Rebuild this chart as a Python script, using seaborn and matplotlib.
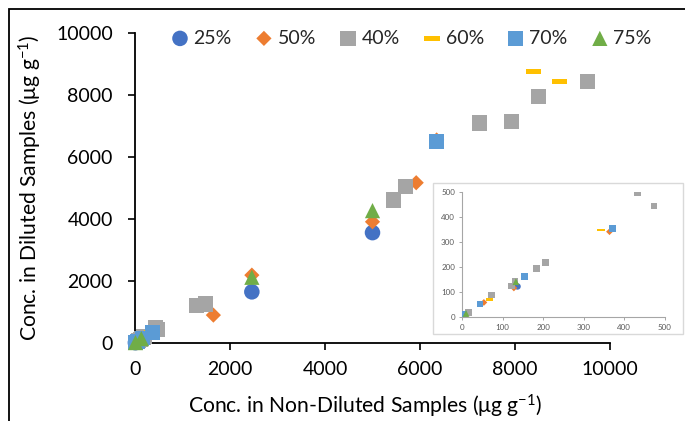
import matplotlib
matplotlib.use("Agg")
import matplotlib.pyplot as plt
from matplotlib.path import Path
from matplotlib.patches import Rectangle
import seaborn as sns

# Series labels (dilution level) and colours
series = ["25%", "50%", "40%", "60%", "70%", "75%"]
colors = ["#4472C4", "#ED7D31", "#A5A5A5", "#FFC000", "#5B9BD5", "#70AD47"]

# Concentrations (µg g-1): non-diluted (x) vs diluted (y)
x25 = [8, 137, 2460, 5000]
y25 = [10, 121, 1650, 3560]
x50 = [12, 54, 128, 364, 1650, 2460, 5000, 5920, 6350]
y50 = [10, 57, 115, 340, 900, 2190, 3910, 5170, 6550]
x40 = [16, 72, 122, 131, 183, 207, 433, 474, 1300, 1480, 5440, 5700, 7250, 7930, 8500, 9530]
y40 = [17, 87, 123, 140, 193, 217, 497, 443, 1200, 1260, 4610, 5040, 7100, 7140, 7950, 8430]
x60 = [69, 343, 8390, 8930]
y60 = [69, 347, 8770, 8430]
x70 = [4, 44, 154, 372, 6350]
y70 = [9, 51, 160, 353, 6490]
x75 = [10, 133, 2460, 5000]
y75 = [13, 140, 2120, 4270]

main_ticks = [0, 2000, 4000, 6000, 8000, 10000]
inset_ticks = [0, 100, 200, 300, 400, 500]

xs = [x25, x50, x40, x60, x70, x75]
ys = [y25, y50, y40, y60, y70, y75]

# flat bar marker for the 60% series
dash = Path([(-1, -0.33), (1, -0.33), (1, 0.33), (-1, 0.33), (-1, -0.33)],
            [Path.MOVETO, Path.LINETO, Path.LINETO, Path.LINETO, Path.CLOSEPOLY])
markers = ["o", "D", "s", dash, "s", "^"]
main_sizes = [125, 60, 120, 120, 115, 120]
inset_sizes = [22, 12, 24, 26, 22, 24]

sns.set_theme(style="white")
plt.rcParams["font.family"] = ["Lato", "DejaVu Sans"]
plt.rcParams["mathtext.fontset"] = "custom"
plt.rcParams["mathtext.rm"] = "Lato"
plt.rcParams["mathtext.default"] = "regular"

fig = plt.figure(figsize=(6.85, 4.21), dpi=100)
ax = fig.add_axes([135 / 685, 1 - 343 / 421, 475 / 685, 310 / 421])

for xv, yv, lab, col, mk, sz in zip(xs, ys, series, colors, markers, main_sizes):
    sns.scatterplot(x=xv, y=yv, ax=ax, color=col, marker=mk, s=sz,
                    linewidth=0, edgecolor="none", label=lab, clip_on=False, zorder=3)

ax.set_xlim(0, 10000)
ax.set_ylim(0, 10000)
ax.set_xticks(main_ticks)
ax.set_yticks(main_ticks)
ax.set_xticklabels([str(t) for t in main_ticks])
ax.set_yticklabels([str(t) for t in main_ticks])
for side in ["top", "right"]:
    ax.spines[side].set_visible(False)
for side in ["left", "bottom"]:
    ax.spines[side].set_color("black")
    ax.spines[side].set_linewidth(1.3)
ax.tick_params(axis="both", which="major", direction="out", length=5, width=1.2,
               color="black", labelsize=14, labelcolor="black",
               bottom=True, left=True)
ax.tick_params(axis="x", pad=8)
ax.tick_params(axis="y", pad=11)

ax.set_xlabel(r"Conc. in Non-Diluted Samples (μg g$^{-1}$)", fontsize=15.2, color="black")
ax.set_ylabel(r"Conc. in Diluted Samples (μg g$^{-1}$)", fontsize=15.2, color="black")
ax.xaxis.set_label_coords(0.485, -0.162)
ax.yaxis.set_label_coords(-0.192, 0.5)

handles, labels = ax.get_legend_handles_labels()
ax.legend(handles, labels, ncol=6, loc="center", frameon=False,
          bbox_to_anchor=(410 / 685, 1 - 38 / 421), bbox_transform=fig.transFigure,
          fontsize=14, handletextpad=0.1, columnspacing=1.05, handlelength=1.2,
          borderaxespad=0)

# inset with the low-concentration range
fig.add_artist(Rectangle((433 / 685, 1 - 334 / 421), 250 / 685, 151 / 421,
                         transform=fig.transFigure, facecolor="white",
                         edgecolor="#D9D9D9", linewidth=1.0, zorder=4))
axi = fig.add_axes([462 / 685, 1 - 316.7 / 421, 202.6 / 685, 125 / 421], zorder=5)
axi.set_facecolor("none")
for xv, yv, col, mk, sz in zip(xs, ys, colors, markers, inset_sizes):
    sns.scatterplot(x=xv, y=yv, ax=axi, color=col, marker=mk, s=sz,
                    linewidth=0, edgecolor="none", legend=False, clip_on=True, zorder=3)
axi.set_xlim(0, 500)
axi.set_ylim(0, 500)
axi.set_xticks(inset_ticks)
axi.set_yticks(inset_ticks)
axi.set_xticklabels([str(t) for t in inset_ticks])
axi.set_yticklabels([str(t) for t in inset_ticks])
for side in ["top", "right"]:
    axi.spines[side].set_visible(False)
for side in ["left", "bottom"]:
    axi.spines[side].set_color("#A6A6A6")
    axi.spines[side].set_linewidth(0.8)
axi.tick_params(axis="both", direction="out", length=2.5, width=0.7, color="#A6A6A6",
                labelsize=5.8, labelcolor="#595959", pad=2.5, bottom=True, left=True)

# outer chart frame
fig.add_artist(Rectangle((8.5 / 685, -0.2), 1.5, 1.2 - 8.5 / 421,
                         transform=fig.transFigure, fill=False,
                         edgecolor="black", linewidth=1.3, zorder=10))

fig.savefig("out.png", dpi=100)
